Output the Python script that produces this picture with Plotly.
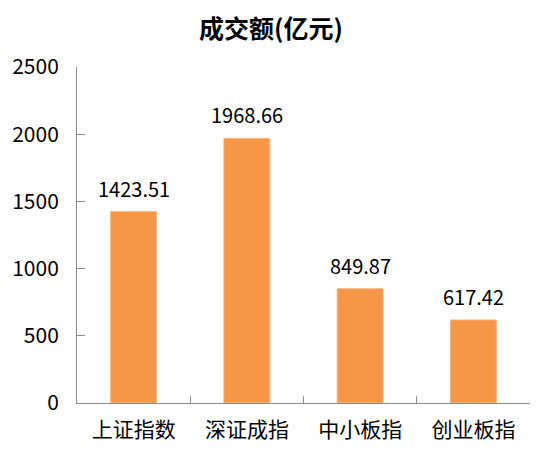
import plotly.graph_objects as go

categories = ["上证指数", "深证成指", "中小板指", "创业板指"]
values = [1423.51, 1968.66, 849.87, 617.42]
value_labels = ["1423.51", "1968.66", "849.87", "617.42"]
y_ticks = [0, 500, 1000, 1500, 2000, 2500]
title_text = "成交额(亿元)"

FONT = "Noto Sans CJK SC, Noto Sans, sans-serif"

# page body has an 8px default margin, so the figure is sized/offset to compensate
W, H = 532, 441

fig = go.Figure()
fig.add_trace(go.Bar(
    x=categories,
    y=values,
    width=0.405,
    marker=dict(color="#F79646", line=dict(color="#FAB27A", width=1)),
    hoverinfo="skip",
))

for c, v, t in zip(categories, values, value_labels):
    fig.add_annotation(
        x=c, y=v, text=t, showarrow=False,
        yanchor="bottom", yshift=7,
        font=dict(family=FONT, size=20, color="#000000"),
    )

fig.update_layout(
    width=W, height=H,
    margin=dict(l=69, r=10, t=59, b=46, autoexpand=False),
    paper_bgcolor="white", plot_bgcolor="white",
    showlegend=False,
    title=dict(text="<b>" + title_text + "</b>", x=263 / W, xanchor="center",
               y=1 - 21 / H, yanchor="middle",
               font=dict(family=FONT, size=25, color="#000000")),
    bargap=0.595,
)

fig.update_xaxes(
    type="category", automargin=False,
    showline=True, linecolor="#8C8C8C", linewidth=1,
    ticks="inside", tickson="boundaries", ticklen=7, tickcolor="#8C8C8C",
    showgrid=False,
    tickfont=dict(family=FONT, size=21, color="#000000"),
    ticklabelstandoff=8,
)
fig.update_yaxes(
    range=[0, 2500], automargin=False,
    tickvals=y_ticks,
    ticktext=[str(t) for t in y_ticks],
    showline=True, linecolor="#8C8C8C", linewidth=1,
    ticks="inside", ticklen=8, tickcolor="#8C8C8C",
    showgrid=False, zeroline=False,
    tickfont=dict(family=FONT, size=21, color="#000000"),
    ticklabelstandoff=13,
)

fig.write_html("out.html")
